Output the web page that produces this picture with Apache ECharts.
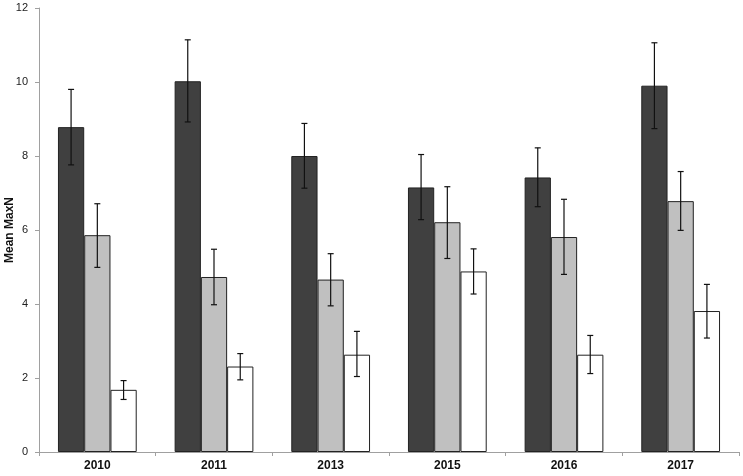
<!DOCTYPE html>
<html>
<head>
<meta charset="utf-8">
<script src="https://cdn.jsdelivr.net/npm/echarts@6/dist/echarts.min.js"></script>
<style>html,body{margin:0;padding:0;background:#fff}#c{width:743px;height:476px}</style>
</head>
<body>
<div id="c"></div>
<script>
const categories = ['2010', '2011', '2013', '2015', '2016', '2017'];
const darkMean = [8.78, 10.02, 8.00, 7.15, 7.42, 9.90];
const darkLow  = [7.76, 8.92, 7.13, 6.28, 6.63, 8.74];
const darkHigh = [9.80, 11.14, 8.88, 8.04, 8.22, 11.06];
const greyMean = [5.86, 4.73, 4.66, 6.21, 5.81, 6.78];
const greyLow  = [4.99, 3.98, 3.95, 5.23, 4.80, 5.99];
const greyHigh = [6.71, 5.48, 5.36, 7.17, 6.83, 7.58];
const whiteMean = [1.68, 2.31, 2.63, 4.88, 2.63, 3.81];
const whiteLow  = [1.42, 1.95, 2.04, 4.27, 2.12, 3.08];
const whiteHigh = [1.93, 2.66, 3.26, 5.49, 3.15, 4.53];
const yTicks = [0, 2, 4, 6, 8, 10, 12];

const BAR_FRAC = 0.225;
const groups = [
  {mean: darkMean, low: darkLow, high: darkHigh, color: '#404040'},
  {mean: greyMean, low: greyLow, high: greyHigh, color: '#c0c0c0'},
  {mean: whiteMean, low: whiteLow, high: whiteHigh, color: '#ffffff'}
];

const series = [];
groups.forEach((g, gi) => {
  series.push({
    type: 'bar',
    data: g.mean,
    barWidth: (BAR_FRAC * 100) + '%',
    barGap: '0%',
    itemStyle: {color: g.color, borderColor: '#222', borderWidth: 1},
    z: 2
  });
});
groups.forEach((g, gi) => {
  series.push({
    type: 'custom',
    data: categories.map((c, i) => [i, g.low[i], g.high[i]]),
    z: 5,
    renderItem: function (params, api) {
      const idx = api.value(0);
      const lowP = api.coord([idx, api.value(1)]);
      const highP = api.coord([idx, api.value(2)]);
      const bw = api.size([1, 0])[0] * BAR_FRAC;
      const x = lowP[0] + (gi - 1) * bw;
      const cap = 3;
      const st = {stroke: '#111', lineWidth: 1.2};
      return {
        type: 'group',
        children: [
          {type: 'line', shape: {x1: x, y1: lowP[1], x2: x, y2: highP[1]}, style: st},
          {type: 'line', shape: {x1: x - cap, y1: lowP[1], x2: x + cap, y2: lowP[1]}, style: st},
          {type: 'line', shape: {x1: x - cap, y1: highP[1], x2: x + cap, y2: highP[1]}, style: st}
        ]
      };
    }
  });
});

const chart = echarts.init(document.getElementById('c'), null, {renderer: 'canvas'});
chart.setOption({
  animation: false,
  backgroundColor: '#fff',
  grid: {left: 39, right: 4, top: 8, bottom: 24, containLabel: false, outerBoundsMode: 'none'},
  xAxis: {
    type: 'category',
    data: categories,
    axisLine: {lineStyle: {color: '#a0a0a0', width: 1}},
    axisTick: {show: true, alignWithLabel: false, length: 4, lineStyle: {color: '#a0a0a0'}},
    axisLabel: {color: '#111', fontWeight: 'bold', fontSize: 12, fontFamily: 'Liberation Sans, Arial, sans-serif', margin: 8}
  },
  yAxis: {
    type: 'value',
    min: yTicks[0],
    max: yTicks[yTicks.length - 1],
    interval: 2,
    name: 'Mean MaxN',
    nameLocation: 'middle',
    nameRotate: 90,
    nameGap: 23,
    nameMoveOverlap: false,
    nameTextStyle: {color: '#111', fontWeight: 'bold', fontSize: 12, fontFamily: 'Liberation Sans, Arial, sans-serif'},
    axisLine: {show: true, lineStyle: {color: '#a0a0a0', width: 1}},
    axisTick: {show: true, length: 4, lineStyle: {color: '#a0a0a0'}},
    splitLine: {show: false},
    axisLabel: {color: '#222', fontSize: 11, fontFamily: 'Liberation Sans, Arial, sans-serif', margin: 11}
  },
  series: series
});
</script>
</body>
</html>
